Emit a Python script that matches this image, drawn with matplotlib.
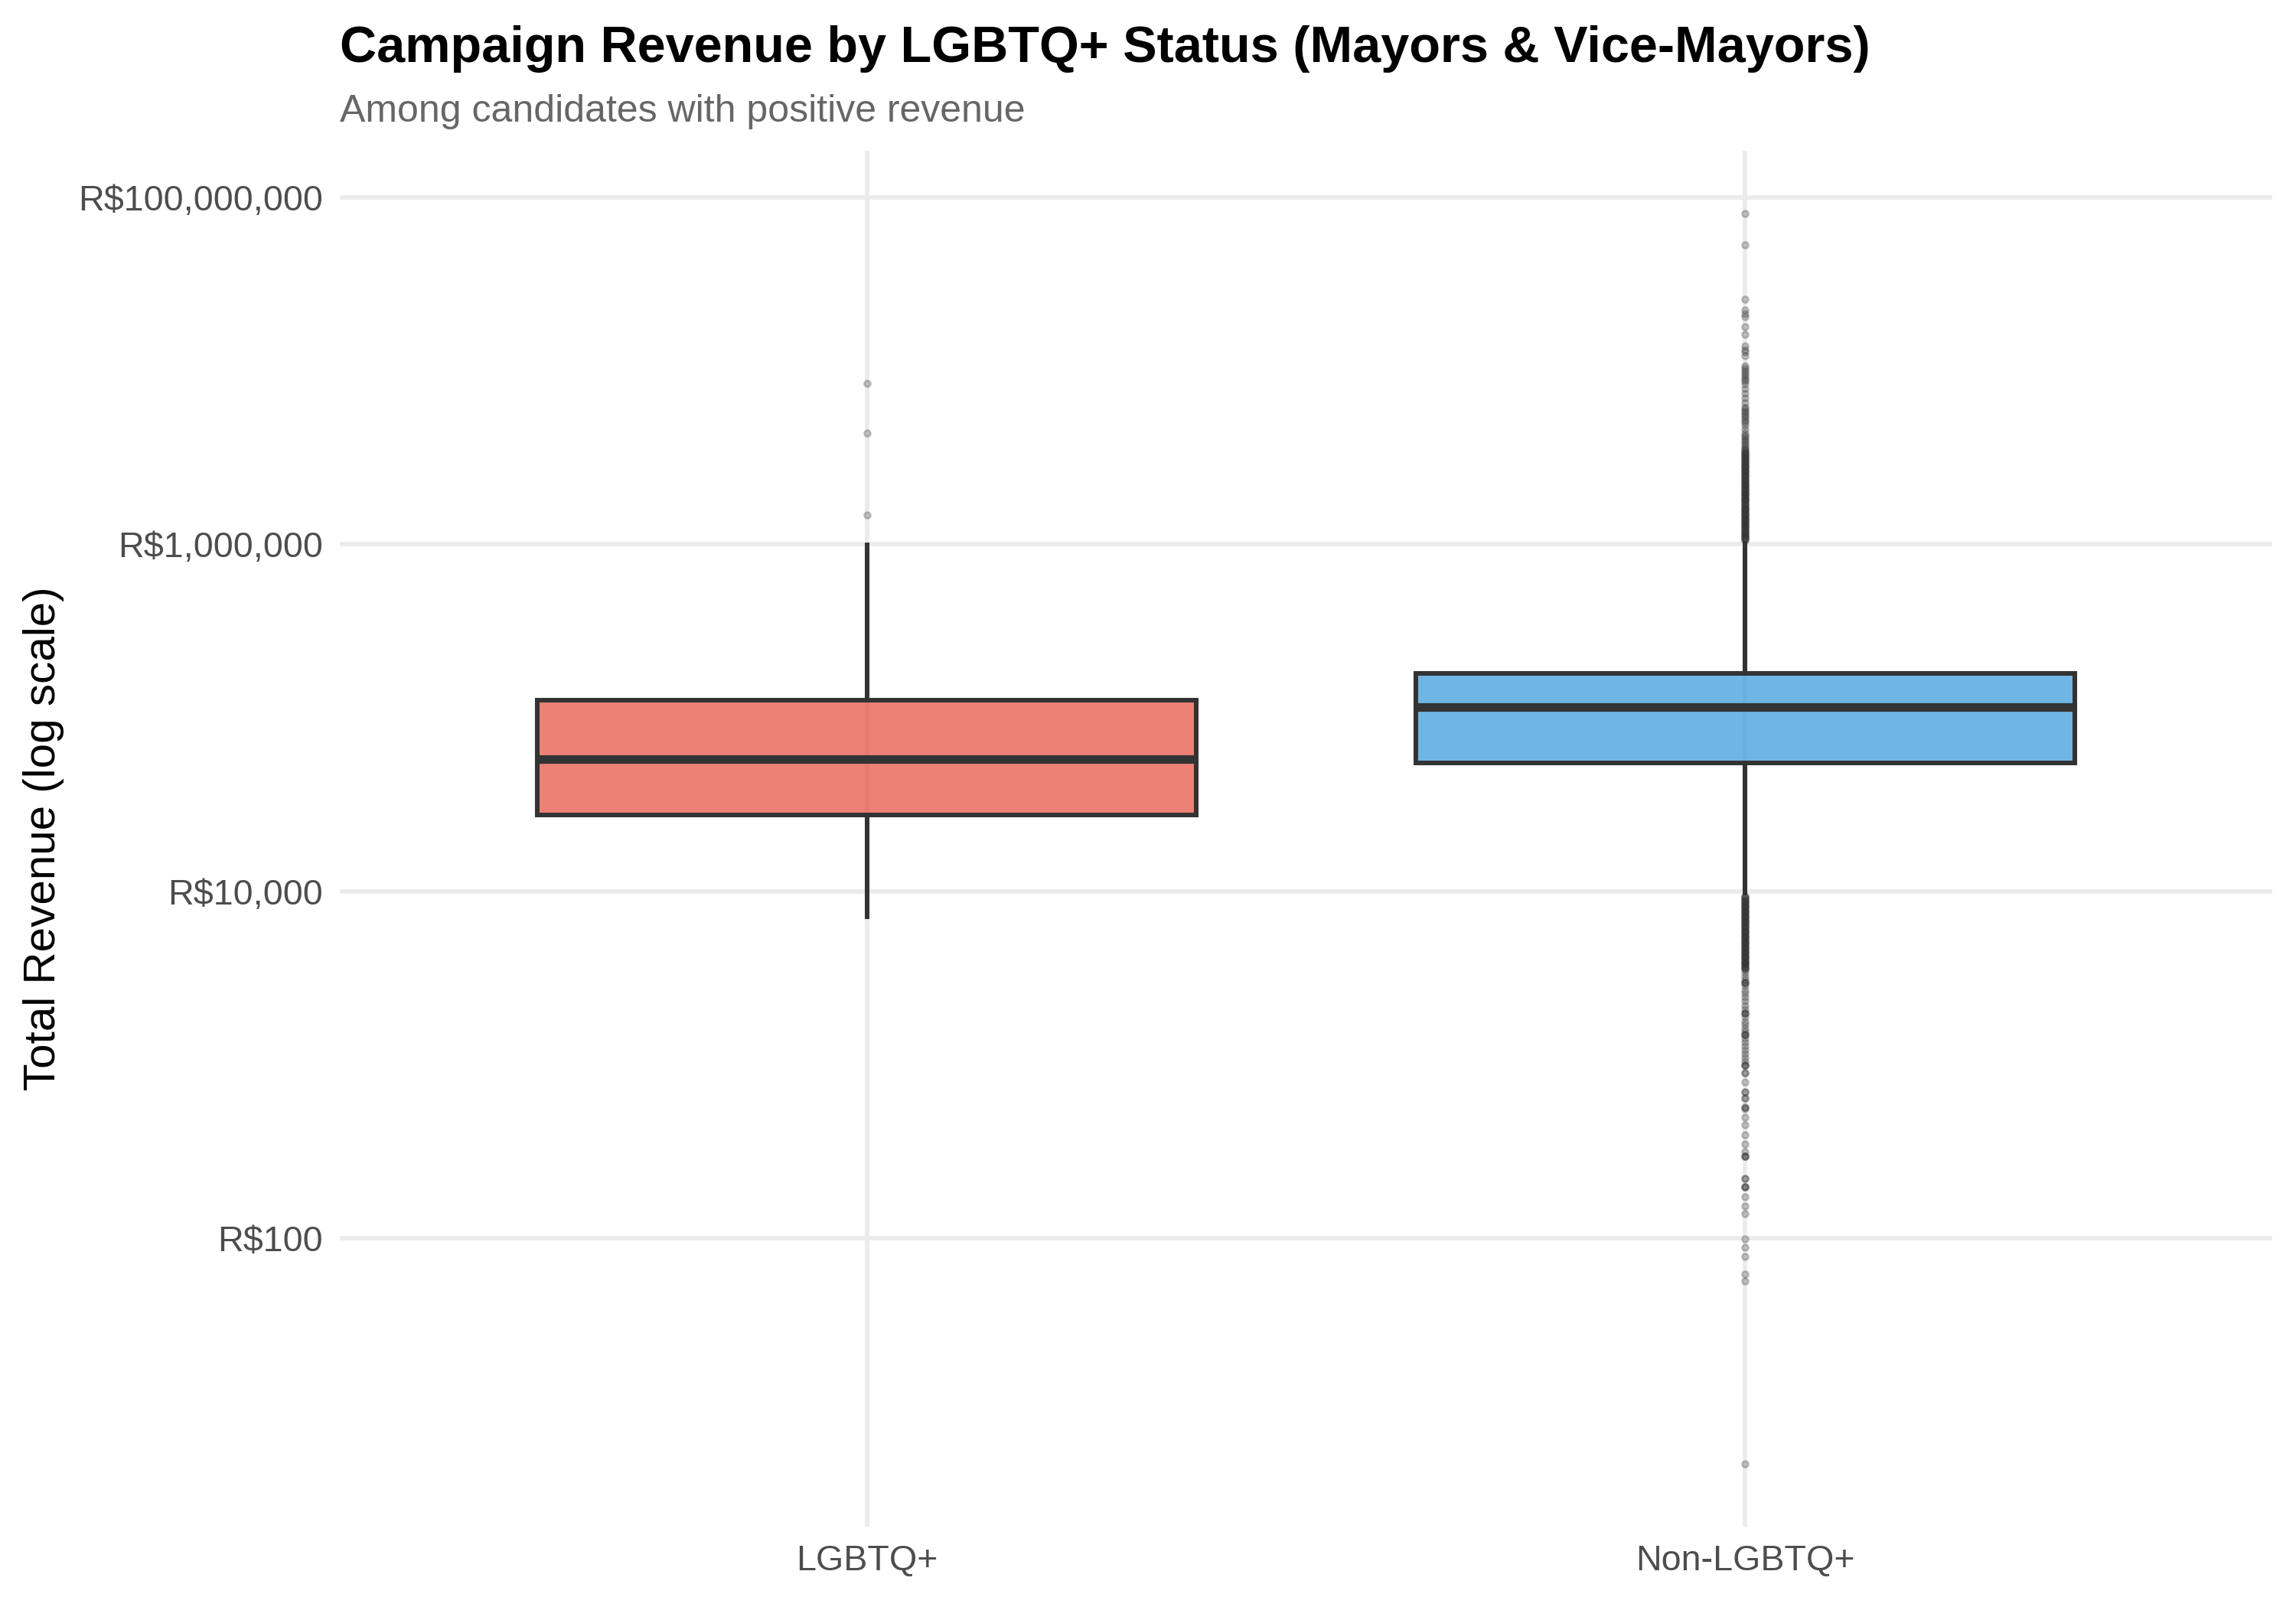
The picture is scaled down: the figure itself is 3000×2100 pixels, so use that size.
import numpy as np
import matplotlib
matplotlib.use("Agg")
import matplotlib.pyplot as plt

plt.rcParams['font.family'] = ['Liberation Sans', 'DejaVu Sans']

# ---------------- data (R$) ----------------
categories = ["LGBTQ+", "Non-LGBTQ+"]
box_colors = ["#E74C3C", "#3498DB"]

q1_values = [27500, 55000]
median_values = [57800, 116000]
q3_values = [127000, 181000]
whisker_low = [6900, 9450]
whisker_high = [1026000, 1050000]

lgbtq_fliers = [8450000, 4400000, 1480000]

# Non-LGBTQ+ outliers above the upper whisker (R$ thousand)
non_upper_fliers_k = [
    81000, 53300, 26000, 22500, 21400, 20400, 18000, 16300, 13900, 13300, 12800, 12200,
    10700, 10400, 10100, 9800, 9500, 9200, 8900, 8700,
    8400, 7900, 7400, 7000, 6600,
    6200, 6050, 5900, 5750, 5600, 5450, 5300, 5150, 5050,
    4850, 4600, 4400,
    4250, 4150, 4050, 3950, 3850, 3750, 3650, 3580, 3500,
    3450, 3410, 3370, 3330, 3290, 3250, 3210, 3170, 3130, 3090, 3050, 3010, 2970, 2940,
    2900, 2870, 2830, 2800, 2760, 2730, 2700, 2660, 2630, 2600, 2570, 2540, 2510, 2480,
    2450, 2420, 2390, 2360, 2330, 2300, 2270, 2250, 2220, 2190, 2170, 2140, 2110, 2090,
    2060, 2040, 2010, 1990, 1970, 1940, 1920, 1900, 1870, 1850, 1830, 1810, 1790, 1770,
    1740, 1720, 1700, 1680, 1660, 1640, 1620, 1600, 1590, 1570, 1550, 1530, 1510, 1490,
    1480, 1460, 1440, 1420, 1410, 1390, 1370, 1360, 1340, 1330, 1310, 1300, 1280, 1270,
    1250, 1240, 1220, 1210, 1190, 1180, 1170, 1150, 1140, 1130, 1110, 1100, 1090, 1080,
    1070, 1060,
]

# Non-LGBTQ+ outliers below the lower whisker (R$)
non_lower_fliers = [
    9400, 9290, 9180, 9070, 8960, 8850, 8750, 8640, 8540, 8440, 8340, 8240, 8140, 8040,
    7950, 7850, 7760, 7670, 7580, 7490, 7400, 7310, 7220, 7140, 7050, 6970, 6890, 6800,
    6720, 6640, 6560, 6490, 6410, 6330, 6260, 6180, 6110, 6040, 5970, 5900, 5830, 5760,
    5690, 5620, 5550, 5490, 5420, 5360, 5300, 5230, 5170, 5110, 5050, 4990, 4930, 4870,
    4810, 4760, 4700, 4650, 4590, 4540, 4480, 4430, 4380, 4320, 4270, 4220, 4170, 4120,
    4070, 4020, 3980, 3930, 3880, 3840, 3790, 3750, 3700, 3660, 3610, 3570, 3530,
    3400, 3250, 3100, 2970, 2970, 2970, 2850, 2700, 2580, 2450, 2330, 2200, 2100,
    1980, 1980, 1980, 1880, 1780, 1700, 1620, 1560, 1490, 1490, 1490, 1420, 1350,
    1280, 1220, 1160, 1100, 1050, 1000, 1000, 1000,
    900, 900, 796, 698, 698, 644, 644, 570, 570, 558, 500, 452, 395, 351, 317,
    298, 298, 298, 222, 222, 199, 199, 199, 174, 154, 139, 99, 89, 79, 62, 57, 5.0,
]

ytick_values = [100, 10000, 1000000, 100000000]
ytick_labels = ["R$100", "R$10,000", "R$1,000,000", "R$100,000,000"]

title = "Campaign Revenue by LGBTQ+ Status (Mayors & Vice-Mayors)"
subtitle = "Among candidates with positive revenue"
ylabel = "Total Revenue (log scale)"

# ---------------- figure ----------------
W, H = 3000, 2100
fig = plt.figure(figsize=(10, 7), dpi=300)
fig.patch.set_facecolor("white")
L, R, T, B = 444, 2969, 197, 1995
ax = fig.add_axes([L / W, 1 - B / H, (R - L) / W, (B - T) / H])

flier_sets = [lgbtq_fliers, [v * 1000 for v in non_upper_fliers_k] + non_lower_fliers]
stats = []
for i, cat in enumerate(categories):
    stats.append(dict(label=cat, med=median_values[i], q1=q1_values[i], q3=q3_values[i],
                      whislo=whisker_low[i], whishi=whisker_high[i],
                      fliers=np.array(flier_sets[i], dtype=float)))

edge = "#333333"
bp = ax.bxp(stats, positions=[1, 2], widths=0.75, patch_artist=True, showcaps=False,
            boxprops=dict(edgecolor=edge, linewidth=1.45),
            medianprops=dict(color=edge, linewidth=2.7, solid_capstyle="butt"),
            whiskerprops=dict(color=edge, linewidth=1.45, solid_capstyle="butt"),
            flierprops=dict(marker="o", markerfacecolor=edge, markeredgecolor=edge,
                            markersize=2.0, markeredgewidth=0.6, alpha=0.25, linestyle="none"),
            manage_ticks=False, zorder=3)
for patch, c in zip(bp["boxes"], box_colors):
    rgb = matplotlib.colors.to_rgb(c)
    patch.set_facecolor((*rgb, 0.7))
    patch.set_edgecolor(edge)

ax.set_yscale("log")
all_vals = np.concatenate([np.array(f, dtype=float) for f in flier_sets] +
                          [np.array(whisker_low + whisker_high, dtype=float)])
lo, hi = np.log10(all_vals.min()), np.log10(all_vals.max())
pad = 0.05 * (hi - lo)
ax.set_ylim(10 ** (lo - pad), 10 ** (hi + pad))
ax.set_xlim(0.4, 2.6)

ax.set_yticks(ytick_values)
ax.set_yticklabels(ytick_labels)
ax.yaxis.set_minor_locator(matplotlib.ticker.NullLocator())
ax.set_xticks([1, 2])
ax.set_xticklabels(categories)

ax.grid(True, which="major", color="#EBEBEB", linewidth=1.35)
ax.set_axisbelow(True)
for s in ax.spines.values():
    s.set_visible(False)
ax.tick_params(axis="both", length=0, labelsize=11.2, labelcolor="#4D4D4D")
ax.tick_params(axis="y", pad=5.3)
ax.tick_params(axis="x", pad=5.5)
ax.set_facecolor("white")

fig.text(L / W, 1 - 81 / H, title, fontsize=16, fontweight="bold", color="black",
         ha="left", va="baseline")
fig.text(L / W, 1 - 159 / H, subtitle, fontsize=12, color="#666666",
         ha="left", va="baseline")
fig.text(57 / W, 1 - ((T + B) / 2) / H, ylabel, fontsize=14, color="black",
         rotation=90, ha="center", va="center")

fig.savefig("out.png", dpi=300, facecolor="white")
